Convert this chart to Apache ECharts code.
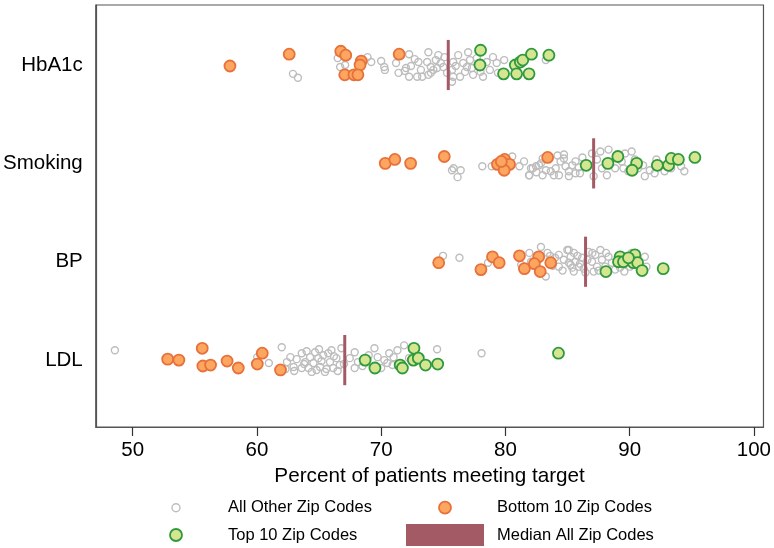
<!DOCTYPE html>
<html><head><meta charset="utf-8">
<script src="https://cdn.jsdelivr.net/npm/echarts@6/dist/echarts.min.js"></script>
<style>html,body{margin:0;padding:0;background:#fff}#c{width:774px;height:548px}</style>
</head><body><div id="c"></div>
<script>
// y positions: LDL=1, BP=2, Smoking=3, HbA1c=4
const measures = ['LDL', 'BP', 'Smoking', 'HbA1c'];
const xTicks = [50, 60, 70, 80, 90, 100];
const medianValues = { HbA1c: 75.4, Smoking: 87.1, BP: 86.45, LDL: 67.07 };

// each point: [percent, vertical jitter (fraction of category spacing, positive = down)]
const hba1cOther = [[62.9,0.09],[63.3,0.13],[66.5,-0.07],[66.7,0.02],[67.1,0],[68.9,-0.08],[69.2,-0.03],[70.25,0.02],[72.25,-0.11],[70.3,0.05],[71.2,-0.02],[71.4,0.08],[72.4,0.01],[72.25,0.12],[73.0,-0.03],[73.2,0.05],[72.9,0.12],[73.8,-0.13],[73.7,-0.03],[74.0,0.02],[74.2,0.05],[73.8,0.10],[74.6,-0.10],[74.8,-0.02],[74.5,0.03],[75.0,0.02],[75.8,-0.03],[75.7,0.05],[75.8,0.12],[75.7,0.17],[76.2,-0.10],[76.6,-0.02],[76.75,0.07],[77.0,-0.13],[77.15,-0.05],[77.3,0.03],[77.4,0.10],[76.35,0.12],[78.5,-0.03],[78.75,0.05],[78.2,0.12],[79.0,-0.08],[79.3,-0.02],[79.4,0.08],[79.9,-0.05],[83.25,-0.05],[71.9,0.06],[72.7,-0.06],[74.0,0.08],[74.4,-0.05],[75.3,0.08],[76.0,0.01],[76.9,0.02],[77.7,-0.07],[78.0,0.07],[73.3,0.12],[75.1,-0.08],[72.0,0.03],[70.0,-0.04]];
const hba1cBottom = [[57.83,0.01],[62.6,-0.11],[66.75,-0.14],[67.15,-0.10],[68.4,-0.04],[68.3,0],[67.07,0.10],[67.81,0.10],[68.13,0.10],[71.45,-0.11]];
const hba1cTop = [[78.0,-0.15],[77.95,0],[79.85,0.09],[80.8,0],[81.2,-0.03],[81.4,-0.05],[80.9,0.09],[81.9,0.09],[82.1,-0.11],[83.5,-0.10]];

const smokingOther = [[75.83,0.05],[76.4,0.07],[76.15,0.14],[75.7,0.07],[78.14,0.03],[78.9,0.03],[80.55,-0.07],[81.13,0.03],[81.9,0.12],[82.2,0.05],[82.06,0.05],[82.46,0.03],[82.86,0],[81.93,0.12],[82.99,0.12],[83.65,0.08],[84.05,0.05],[84.44,-0.02],[84.71,-0.09],[84.84,0.03],[84.31,0.12],[85.11,0.08],[85.38,0.02],[85.64,0.10],[85.11,0.13],[84.71,-0.05],[83.26,0.07],[85.64,-0.02],[86.97,-0.10],[87.37,-0.04],[87.1,0.13],[87.77,0.05],[88.17,0.12],[87.64,-0.12],[88.3,-0.14],[88.83,0.05],[89.36,-0.02],[89.63,-0.10],[90.16,-0.12],[90.42,-0.04],[90.68,0.05],[89.89,0.08],[91.08,0.02],[91.22,0.13],[91.62,0.07],[92.01,0.10],[92.55,0.02],[92.81,0.08],[93.34,0.05],[94.14,0.03],[94.4,0.08],[92.15,-0.04],[89.5,0.05],[81.5,-0.02],[82.5,0.09],[83.0,-0.05],[83.9,0.12],[84.2,-0.08],[85.9,0.04],[86.2,-0.06],[86.0,0.10],[82.7,0.02]];
const smokingBottom = [[70.33,0],[71.1,-0.04],[72.37,0],[75.08,-0.07],[79.36,0.01],[79.94,-0.04],[80.33,0.01],[79.9,0.07],[79.67,-0.02],[83.4,-0.06]];
const smokingTop = [[86.5,0.02],[88.25,0],[89.05,-0.07],[90.56,0],[90.2,0.07],[92.23,0.02],[93.13,0.02],[93.35,-0.05],[93.92,-0.04],[95.25,-0.06]];

const bpOther = [[74.98,-0.06],[76.3,-0.04],[78.6,0.01],[81.93,-0.09],[82.06,0],[81.27,0.03],[82.86,-0.15],[83.39,-0.09],[83.25,0.15],[84.3,-0.07],[84.7,-0.02],[85.1,-0.12],[85.25,0.03],[84.3,0.05],[84.98,-0.12],[85.25,-0.05],[85.11,0.01],[85.51,-0.09],[85.64,0],[85.38,0.06],[85.91,0.05],[86.18,-0.04],[86.7,-0.10],[86.97,0],[87.24,-0.07],[87.37,0.05],[87.64,-0.12],[87.77,-0.02],[88.03,0.05],[88.3,-0.05],[88.57,0.01],[87.1,0.10],[86.44,0.11],[88.83,0.08],[89.23,0.06],[89.57,0.10],[90.02,0.05],[90.56,-0.04],[91.22,-0.05],[91.35,0.05],[90.82,0.08],[90.16,-0.09],[83.8,0.04],[84.0,-0.04],[85.8,-0.06],[86.3,0.07],[86.0,0.02],[87.0,-0.09],[87.5,0.09],[88.1,-0.09],[85.5,0.10],[86.6,-0.02],[83.6,-0.06],[84.6,0.09]];
const bpBottom = [[74.63,0.01],[78.03,0.08],[78.96,-0.05],[79.5,0.01],[81.13,-0.06],[81.53,0.07],[82.68,-0.05],[82.33,0.02],[82.8,0.10],[83.65,0.01]];
const bpTop = [[88.09,0.10],[89.23,-0.05],[89.1,0],[89.5,0],[90.42,-0.07],[90.3,0.01],[90.64,0.01],[91.0,0.09],[89.9,-0.04],[92.7,0.07]];

const ldlOther = [[48.57,-0.10],[60.96,0.03],[60.03,-0.03],[62.0,-0.13],[62.69,-0.03],[62.95,0.07],[62.42,0.02],[63.61,-0.07],[63.89,0.02],[64.15,0.08],[64.28,-0.03],[64.68,-0.08],[64.94,-0.02],[64.55,0.03],[65.08,0.07],[65.34,-0.05],[65.74,-0.07],[65.88,0.02],[66.14,0.08],[66.0,-0.10],[66.4,-0.02],[66.67,0.05],[66.8,-0.12],[63.61,0.08],[64.41,0.12],[65.48,0.12],[67.47,-0.02],[67.87,-0.08],[68.13,0.02],[69.46,-0.12],[69.72,-0.03],[70.25,0],[70.65,-0.07],[70.92,0.05],[71.31,-0.10],[71.85,-0.15],[72.24,-0.02],[67.87,0.08],[74.5,-0.11],[78.08,-0.07],[62.3,0.09],[63.2,-0.01],[63.0,0.11],[64.0,-0.09],[64.8,0.10],[65.2,0.01],[65.6,0.09],[66.2,-0.04],[66.5,0.11],[63.8,0.04],[65.0,-0.11],[67.0,0.04],[68.5,0.06],[69.0,-0.05],[70.0,0.08],[70.5,0.03],[71.0,-0.03]];
const ldlBottom = [[52.82,-0.01],[53.72,0],[55.6,-0.12],[55.65,0.06],[56.27,0.05],[57.6,0.01],[58.5,0.08],[60.43,-0.07],[60.03,0.04],[61.9,0.10]];
const ldlTop = [[68.71,0],[69.5,0.08],[71.53,0.05],[71.71,0.08],[72.64,-0.12],[72.59,0],[72.99,-0.02],[73.57,0.05],[74.55,0.04],[84.27,-0.07]];

const FONT = '"Liberation Sans", Arial, Helvetica, sans-serif';
function place(points, measure) {
  const c = measures.indexOf(measure) + 1;
  return points.map(p => [p[0], c - p[1]]);
}
const otherData = [].concat(place(hba1cOther,'HbA1c'), place(smokingOther,'Smoking'), place(bpOther,'BP'), place(ldlOther,'LDL'));
const bottomData = [].concat(place(hba1cBottom,'HbA1c'), place(smokingBottom,'Smoking'), place(bpBottom,'BP'), place(ldlBottom,'LDL'));
const topData = [].concat(place(hba1cTop,'HbA1c'), place(smokingTop,'Smoking'), place(bpTop,'BP'), place(ldlTop,'LDL'));
const medianData = measures.map((m, i) => [medianValues[m], i + 1]);

const GREY = '#bdbdbd', OR_FILL = '#fca660', OR_LINE = '#e8703a', GR_FILL = '#d6e592', GR_LINE = '#2e9a3c', MED = '#a35a64';
const CIRCLE_ICON = 'path://M0,50A50,50,0,1,1,100,50A50,50,0,1,1,0,50Z';
const legendBase = {
  padding: 0, itemWidth: 78, selectedMode: false, symbolKeepAspect: true,
  textStyle: { fontSize: 16.5, color: '#000', fontFamily: FONT, lineHeight: 22, padding: [0, 0, 0, 8] }
};
const chart = echarts.init(document.getElementById('c'), null, { renderer: 'canvas' });
chart.setOption({
  animation: false,
  backgroundColor: '#fff',
  grid: { left: 95, top: 5, width: 675, height: 422, show: true, borderColor: '#555', borderWidth: 1.2, backgroundColor: '#fff' },
  xAxis: {
    type: 'value', min: 47.03, max: 100.77,
    axisLine: { show: true, onZero: false, lineStyle: { color: '#555', width: 1.2 } },
    axisTick: { show: true, length: 9, customValues: xTicks, lineStyle: { color: '#333', width: 1.2 } },
    axisLabel: { customValues: xTicks, fontSize: 20.5, color: '#000', margin: 13, fontFamily: FONT },
    splitLine: { show: false },
    name: 'Percent of patients meeting target', nameLocation: 'middle', nameGap: 23,
    nameTextStyle: { fontSize: 20.7, color: '#000', fontFamily: FONT }
  },
  yAxis: {
    type: 'value', min: 0.32, max: 4.61,
    axisLine: { show: true, onZero: false, lineStyle: { color: '#555', width: 1.2 } },
    axisTick: { show: false, customValues: [1, 2, 3, 4] },
    axisLabel: { customValues: [1, 2, 3, 4], formatter: v => measures[Math.round(v) - 1], fontSize: 20.5, color: '#000', margin: 13, fontFamily: FONT },
    splitLine: { show: false }
  },
  legend: [
    Object.assign({}, legendBase, { left: 171.3, top: 496.7, itemHeight: 8,
      data: [{ name: 'All Other Zip Codes', icon: CIRCLE_ICON, itemStyle: { color: '#fff', borderColor: GREY, borderWidth: 1.4 } }] }),
    Object.assign({}, legendBase, { left: 169.1, top: 524, itemHeight: 12,
      data: [{ name: 'Top 10 Zip Codes', icon: CIRCLE_ICON, itemStyle: { color: GR_FILL, borderColor: GR_LINE, borderWidth: 1.8 } }] }),
    Object.assign({}, legendBase, { left: 438.1, top: 496.7, itemHeight: 12,
      data: [{ name: 'Bottom 10 Zip Codes', icon: CIRCLE_ICON, itemStyle: { color: OR_FILL, borderColor: OR_LINE, borderWidth: 1.8 } }] }),
    Object.assign({}, legendBase, { left: 406, top: 524, itemHeight: 22,
      data: [{ name: 'Median All Zip Codes', icon: 'rect', itemStyle: { color: MED, borderWidth: 0 } }] })
  ],
  series: [
    { name: 'All Other Zip Codes', type: 'scatter', data: otherData, symbol: 'circle', symbolSize: 7,
      itemStyle: { color: 'rgba(255,255,255,0)', borderColor: GREY, borderWidth: 1.4, opacity: 1 }, emphasis: { disabled: true }, z: 2 },
    { name: 'Bottom 10 Zip Codes', type: 'scatter', data: bottomData, symbol: 'circle', symbolSize: 11,
      itemStyle: { color: OR_FILL, borderColor: OR_LINE, borderWidth: 1.8, opacity: 1 }, emphasis: { disabled: true }, z: 3 },
    { name: 'Top 10 Zip Codes', type: 'scatter', data: topData, symbol: 'circle', symbolSize: 11,
      itemStyle: { color: GR_FILL, borderColor: GR_LINE, borderWidth: 1.8, opacity: 1 }, emphasis: { disabled: true }, z: 3 },
    { name: 'Median All Zip Codes', type: 'custom', data: medianData, encode: { x: 0, y: 1 }, itemStyle: { color: MED }, z: 4,
      renderItem: (params, api) => {
        const x = api.value(0), y = api.value(1);
        const p1 = api.coord([x, y + 0.255]);
        const p2 = api.coord([x, y - 0.255]);
        return { type: 'line', shape: { x1: p1[0], y1: p1[1], x2: p2[0], y2: p2[1] }, style: { stroke: MED, lineWidth: 3 } };
      } }
  ]
});
</script></body></html>
